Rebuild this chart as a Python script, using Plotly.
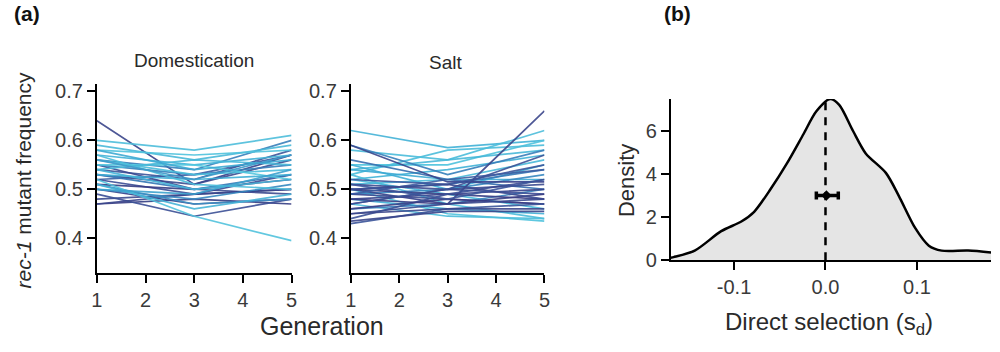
import plotly.graph_objects as go
from plotly.colors import sample_colorscale

# ---------------- data ----------------
generations = [1, 3, 5]

# Domestication: frequency at generations 1, 3, 5 ; shade 0 = light cyan, 1 = dark navy
dom_g1 = [0.64, 0.47, 0.48, 0.50, 0.52, 0.53, 0.51, 0.54, 0.49, 0.55, 0.52, 0.47,
          0.56, 0.53, 0.50, 0.55, 0.51,
          0.60, 0.59, 0.58, 0.57, 0.56, 0.55, 0.54, 0.53, 0.52, 0.51, 0.57, 0.58, 0.50, 0.54, 0.56]
dom_g3 = [0.51, 0.48, 0.49, 0.47, 0.49, 0.51, 0.50, 0.52, 0.445, 0.50, 0.53, 0.49,
          0.54, 0.50, 0.48, 0.53, 0.47,
          0.58, 0.56, 0.57, 0.55, 0.53, 0.55, 0.56, 0.52, 0.445, 0.46, 0.51, 0.54, 0.49, 0.50, 0.52]
dom_g5 = [0.57, 0.47, 0.50, 0.48, 0.53, 0.56, 0.52, 0.58, 0.48, 0.49, 0.57, 0.50,
          0.60, 0.53, 0.51, 0.55, 0.48,
          0.61, 0.59, 0.58, 0.57, 0.54, 0.52, 0.55, 0.53, 0.395, 0.49, 0.50, 0.56, 0.54, 0.52, 0.57]
dom_shade = [0.95, 1.0, 0.9, 0.95, 0.85, 0.9, 1.0, 0.8, 0.85, 0.9, 0.75, 0.95,
             0.55, 0.6, 0.5, 0.55, 0.45,
             0.1, 0.15, 0.05, 0.2, 0.1, 0.0, 0.15, 0.25, 0.05, 0.2, 0.1, 0.3, 0.35, 0.2, 0.4]

salt_g1 = [0.62, 0.58, 0.55, 0.54, 0.53, 0.52, 0.55, 0.51, 0.53, 0.50, 0.48, 0.47, 0.54, 0.52,
           0.59, 0.50, 0.49, 0.46, 0.56,
           0.59, 0.50, 0.50, 0.49, 0.48, 0.47, 0.46, 0.45, 0.43, 0.435, 0.44, 0.51, 0.52, 0.49,
           0.48, 0.47, 0.50, 0.45, 0.51]
salt_g3 = [0.585, 0.56, 0.55, 0.56, 0.58, 0.54, 0.50, 0.52, 0.47, 0.45, 0.46, 0.445, 0.52, 0.49,
           0.53, 0.51, 0.50, 0.47, 0.52,
           0.515, 0.47, 0.49, 0.48, 0.49, 0.50, 0.48, 0.47, 0.46, 0.455, 0.49, 0.50, 0.51, 0.52,
           0.47, 0.50, 0.51, 0.46, 0.48]
salt_g5 = [0.60, 0.62, 0.60, 0.58, 0.59, 0.57, 0.55, 0.56, 0.44, 0.435, 0.45, 0.44, 0.52, 0.46,
           0.58, 0.54, 0.53, 0.50, 0.50,
           0.515, 0.66, 0.48, 0.47, 0.50, 0.49, 0.47, 0.48, 0.47, 0.455, 0.52, 0.51, 0.55, 0.54,
           0.49, 0.57, 0.48, 0.46, 0.52]
salt_shade = [0.2, 0.1, 0.05, 0.15, 0.1, 0.2, 0.25, 0.15, 0.1, 0.05, 0.2, 0.1, 0.3, 0.15,
              0.55, 0.6, 0.5, 0.55, 0.65,
              0.95, 0.95, 1.0, 0.9, 0.95, 0.85, 1.0, 0.9, 0.8, 0.95, 0.85, 0.9, 0.8, 0.75,
              1.0, 0.85, 0.9, 0.95, 0.8]

# Density of direct selection
sd_x = [-0.169, -0.166, -0.143, -0.114, -0.092, -0.078, -0.060, -0.042, -0.024, -0.010,
        0.005, 0.015, 0.030, 0.044, 0.066, 0.080, 0.098, 0.113, 0.127, 0.156, 0.181]
sd_density = [0.12, 0.15, 0.45, 1.35, 1.8, 2.25, 3.3, 4.5, 5.85, 6.9,
              7.47, 7.2, 6.0, 4.95, 4.05, 3.0, 1.5, 0.68, 0.45, 0.45, 0.36]
sd_mean = 0.001
sd_err_minus = 0.011
sd_err_plus = 0.013
sd_mean_y = 3.0
sd_zero_line = [0.0, 7.35]

x_ticks_gen = [1, 2, 3, 4, 5]
y_ticks_freq = [0.4, 0.5, 0.6, 0.7]
x_ticks_sd = [-0.1, 0.0, 0.1]
x_ticklabels_sd = ["-0.1", "0.0", "0.1"]
y_ticks_density = [0, 2, 4, 6]

# ---------------- figure ----------------
FONT = "Liberation Sans, Arial, Helvetica, sans-serif"
scale = [[0.0, "#56c8df"], [0.3, "#3eaad3"], [0.6, "#3a78b6"], [0.8, "#3c569b"], [1.0, "#3b4086"]]

fig = go.Figure()

def add_lines(g1, g3, g5, shade, xa, ya):
    cols = sample_colorscale(scale, shade)
    for a, b, c, col in zip(g1, g3, g5, cols):
        fig.add_trace(go.Scatter(x=generations, y=[a, b, c], mode="lines",
                                 line=dict(color=col, width=1.7), opacity=0.9,
                                 xaxis=xa, yaxis=ya, showlegend=False, hoverinfo="skip"))

add_lines(dom_g1, dom_g3, dom_g5, dom_shade, "x", "y")
add_lines(salt_g1, salt_g3, salt_g5, salt_shade, "x2", "y2")

fig.add_trace(go.Scatter(x=sd_x, y=sd_density, mode="lines", fill="tozeroy",
                         fillcolor="#e5e5e5", line=dict(color="black", width=2.5, shape="spline", smoothing=0.8),
                         xaxis="x3", yaxis="y3", showlegend=False))
fig.add_trace(go.Scatter(x=[0, 0], y=sd_zero_line, mode="lines",
                         line=dict(color="black", width=2.5, dash="8px,7px"),
                         xaxis="x3", yaxis="y3", showlegend=False))
fig.add_trace(go.Scatter(x=[sd_mean], y=[sd_mean_y], mode="markers",
                         marker=dict(color="black", size=8, symbol="diamond"),
                         error_x=dict(type="data", symmetric=False, array=[sd_err_plus],
                                      arrayminus=[sd_err_minus], color="black", thickness=3.5, width=4),
                         xaxis="x3", yaxis="y3", showlegend=False))

axis_common = dict(showline=True, linecolor="black", linewidth=2, ticks="outside",
                   ticklen=8, tickwidth=1.5, tickcolor="black", showgrid=False, zeroline=False,
                   tickfont=dict(family=FONT, size=20, color="#3a3a3a"))

y_top = 1 - 84 / 352
y_bot = 1 - 281 / 352
fig.update_layout(
    width=1000, height=352, margin=dict(l=0, r=0, t=0, b=0),
    paper_bgcolor="white", plot_bgcolor="white",
    font=dict(family=FONT, color="#2a2a2a"),
    xaxis=dict(domain=[92 / 1000, 289 / 1000], range=[1, 5], tickvals=x_ticks_gen, anchor="y", **axis_common),
    yaxis=dict(domain=[y_bot, y_top], range=[0.3294, 0.7157], tickvals=y_ticks_freq, anchor="x", **axis_common),
    xaxis2=dict(domain=[349 / 1000, 545 / 1000], range=[1, 5], tickvals=x_ticks_gen, anchor="y2", **axis_common),
    yaxis2=dict(domain=[y_bot, y_top], range=[0.3294, 0.7157], tickvals=y_ticks_freq, anchor="x2", **axis_common),
    xaxis3=dict(domain=[673 / 1000, 997 / 1000], range=[-0.169, 0.181], tickvals=x_ticks_sd,
                ticktext=x_ticklabels_sd, anchor="y3", **axis_common),
    yaxis3=dict(domain=[1 - 268 / 352, 1 - 100 / 352], range=[0, 7.47], tickvals=y_ticks_density,
                anchor="x3", **axis_common),
)

def ann(text, x, y, size, rot=0, bold=False, color="#2a2a2a"):
    fig.add_annotation(text=f"<b>{text}</b>" if bold else text, x=x / 1000, y=1 - y / 352,
                       xref="paper", yref="paper", showarrow=False, textangle=rot,
                       xanchor="center", yanchor="middle",
                       font=dict(family=FONT, size=size, color=color))

ann("(a)", 21, 11, 21, bold=True, color="#111")
ann("(b)", 680, 11, 21, bold=True, color="#111")
ann("Domestication", 190, 60, 19)
ann("Salt", 445, 62, 19)
ann("<i>rec-1</i> mutant frequency", 18, 185, 21, rot=-90)
ann("Generation", 320, 336, 25)
ann("Density", 628, 185, 22, rot=-90)
ann("Direct selection (s<sub>d</sub>)", 833, 334, 24)

fig.write_html("out.html")
